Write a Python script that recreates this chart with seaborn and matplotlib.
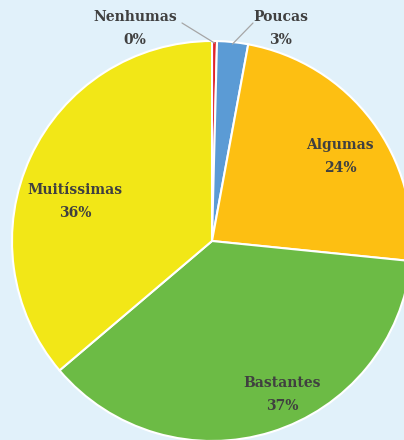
import numpy as np
import matplotlib
matplotlib.use("Agg")
import matplotlib.pyplot as plt
import seaborn as sns

categories = ["Nenhumas", "Poucas", "Algumas", "Bastantes", "Muitíssimas"]
shares = [0.4, 2.5, 23.7, 37.2, 36.2]
pct_labels = ["0%", "3%", "24%", "37%", "36%"]
colors = ["#E0262B", "#5B9BD5", "#FDBF12", "#6CBB45", "#F2E717"]

sns.set_theme(style="white")
plt.rcParams["font.family"] = ["DejaVu Serif"]

bg = "#E1F1FA"
fig = plt.figure(figsize=(4.04, 4.40), dpi=100, facecolor=bg)
ax = fig.add_axes([0, 0, 1, 1])
ax.set_facecolor(bg)
ax.axis("off")

wedges, _ = ax.pie(shares, colors=colors, startangle=90, counterclock=False,
                   radius=1.0, wedgeprops=dict(edgecolor="white", linewidth=1.5))
ax.set_xlim(-1.06, 0.96)
ax.set_ylim(-0.995, 1.205)
ax.set_aspect("equal")

txt = dict(fontsize=10, fontweight="bold", color="#404040",
           ha="center", va="center", linespacing=1.8)

# label anchor positions (pie units)
label_pos = [(-0.385, 1.0625), (0.345, 1.0625), (0.64, 0.4225),
             (0.35, -0.7675), (-0.685, 0.1975)]
for i, (lx, ly) in enumerate(label_pos):
    ax.text(lx, ly, f"{categories[i]}\n{pct_labels[i]}", **txt)

# leader lines for the two thin slices
starts = {0: (-0.15, 1.09), 1: (0.205, 1.09)}
for i, (sx, sy) in starts.items():
    w = wedges[i]
    mid = np.deg2rad((w.theta1 + w.theta2) / 2)
    ax.plot([sx, np.cos(mid) * 0.99], [sy, np.sin(mid) * 0.99],
            color="#A6A6A6", lw=0.9)

fig.savefig("out.png", dpi=100, facecolor=bg)
